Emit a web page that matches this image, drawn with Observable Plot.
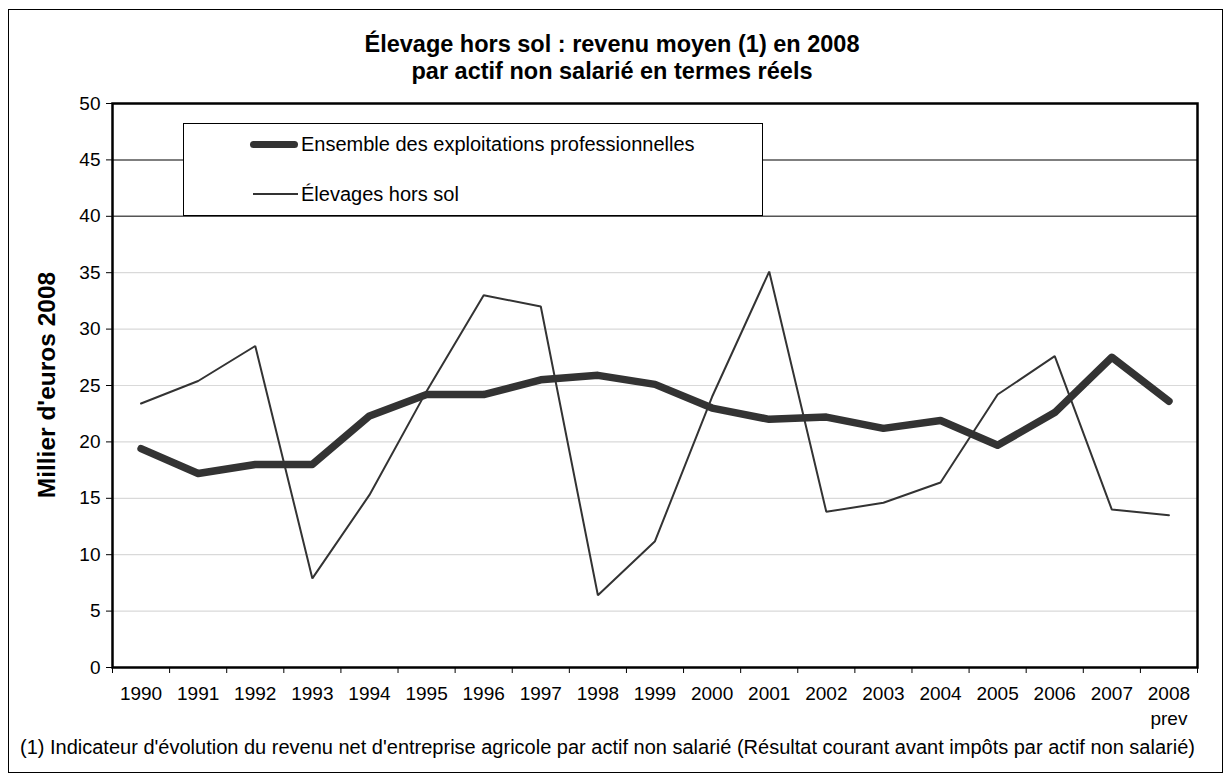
<!DOCTYPE html>
<html>
<head>
<meta charset="utf-8">
<script src="https://cdn.jsdelivr.net/npm/d3@7"></script>
<script src="https://cdn.jsdelivr.net/npm/@observablehq/plot@0.6"></script>
<style>
  html, body { margin: 0; padding: 0; background: #fff; }
  #wrap { position: relative; width: 1231px; height: 780px; overflow: hidden; font-family: "Liberation Sans", Arial, Helvetica, sans-serif; color: #000; }
  #frame { position: absolute; left: 8px; top: 9px; width: 1215px; height: 764px; border: 1.5px solid #000; box-sizing: border-box; pointer-events: none; }
  #title { position: absolute; left: 9px; width: 1206px; top: 31px; text-align: center; font-weight: bold; font-size: 23.5px; line-height: 27px; }
  #ylabel { position: absolute; left: 47px; top: 385px; transform: translate(-50%, -50%) rotate(-90deg); font-weight: bold; font-size: 24.5px; white-space: nowrap; }
  #note { position: absolute; left: 20px; top: 736px; font-size: 20px; white-space: nowrap; }
  #legend { position: absolute; left: 183px; top: 123px; width: 580px; height: 93px; background: #fff; border: 1.5px solid #000; box-sizing: border-box; }
  .item { position: absolute; left: 66px; display: flex; align-items: center; font-size: 20px; white-space: nowrap; }
  .sw { display: inline-block; width: 48px; margin-right: 3px; background: #333; }
  #plot { position: absolute; left: 0; top: 0; }
</style>
</head>
<body>
<div id="wrap">
  <div id="plot"></div>
  <div id="legend"></div>
  <div id="title"></div>
  <div id="ylabel"></div>
  <div id="note"></div>
  <div id="frame"></div>
</div>
<script>
// ---- data ----
const years = [1990,1991,1992,1993,1994,1995,1996,1997,1998,1999,2000,2001,2002,2003,2004,2005,2006,2007,2008];
const tickLabels = ["1990","1991","1992","1993","1994","1995","1996","1997","1998","1999","2000","2001","2002","2003","2004","2005","2006","2007","2008"];
const subLabel = {2008: "prev"};
const ensemble = [19.4,17.2,18.0,18.0,22.3,24.2,24.2,25.5,25.9,25.1,23.0,22.0,22.2,21.2,21.9,19.7,22.6,27.5,23.6];
const horsSol  = [23.4,25.4,28.5,7.9,15.3,24.5,33.0,32.0,6.4,11.2,24.0,35.1,13.8,14.6,16.4,24.2,27.6,14.0,13.5];
const seriesNames = ["Ensemble des exploitations professionnelles", "Élevages hors sol"];
const yTicks = [0,5,10,15,20,25,30,35,40,45,50];
const gridLight = [5,10,15,20,25,30,35];
const gridDark = [40,45];
const titleLines = ["Élevage hors sol : revenu moyen (1) en 2008", "par actif non salarié en termes réels"];
const yTitle = "Millier d'euros 2008";
const footnote = "(1) Indicateur d'évolution du revenu net d'entreprise agricole par actif non salarié (Résultat courant avant impôts par actif non salarié)";

const rows = years.map((y, i) => ({year: y, ens: ensemble[i], hs: horsSol[i]}));
const boundaries = [years[0] - 0.5, ...years.map(y => y + 0.5)];

const chart = Plot.plot({
  width: 1231,
  height: 780,
  marginLeft: 112,
  marginRight: 34,
  marginTop: 103,
  marginBottom: 113,
  style: {fontFamily: "'Liberation Sans', Arial, Helvetica, sans-serif", fontSize: "19px", color: "#000", background: "transparent"},
  x: {domain: [boundaries[0], boundaries[boundaries.length - 1]]},
  y: {domain: [0, 50]},
  marks: [
    Plot.gridY(gridLight, {stroke: "#d9d9d9", strokeOpacity: 1, strokeWidth: 1.2}),
    Plot.gridY(gridDark, {stroke: "#555", strokeOpacity: 1, strokeWidth: 1.5}),
    Plot.axisY({ticks: yTicks, tickSize: 6, tickPadding: 6, tickFormat: d => String(d), label: null, stroke: "#000", strokeWidth: 1}),
    Plot.axisX({ticks: boundaries, tickSize: 6, tickFormat: () => "", label: null, stroke: "#000", strokeWidth: 1}),
    Plot.axisX({ticks: years, tickSize: 0, tickPadding: 19, tickFormat: d => tickLabels[years.indexOf(d)], label: null}),
    Plot.axisX({ticks: years.filter(y => subLabel[y]), tickSize: 0, tickPadding: 44, tickFormat: d => subLabel[d], label: null}),
    Plot.line(rows, {x: "year", y: "hs", stroke: "#333", strokeWidth: 2, strokeLinejoin: "miter"}),
    Plot.line(rows, {x: "year", y: "ens", stroke: "#333", strokeWidth: 7.5, strokeLinejoin: "round", strokeLinecap: "round"}),
    Plot.frame({stroke: "#000", strokeWidth: 2.5})
  ]
});
document.getElementById("plot").appendChild(chart);

document.getElementById("title").innerHTML = titleLines.map(t => `<div>${t}</div>`).join("");
document.getElementById("ylabel").textContent = yTitle;
document.getElementById("note").textContent = footnote;

const legend = document.getElementById("legend");
const widths = [7, 2];
const tops = [20, 70];
seriesNames.forEach((name, i) => {
  const it = document.createElement("div");
  it.className = "item";
  it.style.top = (tops[i] - 13) + "px";
  it.style.height = "26px";
  const sw = document.createElement("span");
  sw.className = "sw";
  sw.style.height = widths[i] + "px";
  if (i === 0) sw.style.borderRadius = "4px";
  else { sw.style.width = "45px"; sw.style.marginLeft = "3px"; }
  const tx = document.createElement("span");
  tx.textContent = name;
  it.appendChild(sw); it.appendChild(tx);
  legend.appendChild(it);
});
</script>
</body>
</html>
